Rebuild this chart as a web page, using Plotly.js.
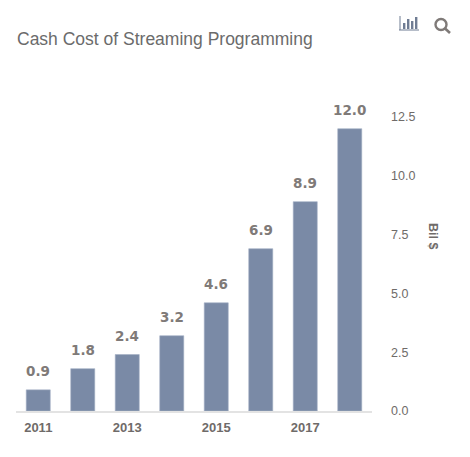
<!DOCTYPE html>
<html>
<head>
<meta charset="utf-8">
<script src="https://cdn.plot.ly/plotly-3.0.1.min.js"></script>
<style>html,body{margin:0;padding:0;background:#fff}#c{width:470px;height:457px}</style>
</head>
<body>
<div id="c"></div>
<script>
const years = [2011, 2012, 2013, 2014, 2015, 2016, 2017, 2018];
const costs = [0.9, 1.8, 2.4, 3.2, 4.6, 6.9, 8.9, 12.0];
const xTicks = [2011, 2013, 2015, 2017];
const yTicks = [0, 2.5, 5, 7.5, 10, 12.5];
const titleText = 'Cash Cost of Streaming Programming';
const unitText = 'Bil $';

const px = x => (x - 16) / 356;
const py = y => (411 - y) / 294;
const iconBlue = '#6f7c93', iconGrey = '#7f7a78';
const iconBar = (x0, top) => ({type:'rect', xref:'paper', yref:'paper', x0:px(x0), x1:px(x0+2.4), y0:py(29), y1:py(top), fillcolor:iconBlue, line:{width:0}});

const trace = {
  type: 'bar', x: years, y: costs,
  marker: {color: '#7a8aa6', line: {color: '#a3afc4', width: 0.6}},
  cliponaxis: false,
  hoverinfo: 'x+y'
};
const valueLabels = years.map((yr, i) => ({
  x: yr, y: costs[i], xref: 'x', yref: 'y', text: '<b>' + costs[i].toFixed(1) + '</b>',
  showarrow: false, xanchor: 'center', yanchor: 'bottom', yshift: 9,
  font: {family: 'DejaVu Sans', size: 13.5, color: '#7f7a78'}
}));
const layout = {
  width: 470, height: 457,
  margin: {l: 16, r: 98, t: 117, b: 46, pad: 0},
  paper_bgcolor: '#fff', plot_bgcolor: '#fff',
  bargap: 0.46, showlegend: false,
  title: {text: titleText, x: 17/470, xanchor: 'left', y: 1-39/457, yanchor: 'middle',
          font: {family: 'Liberation Sans', size: 17.5, color: '#6b6b6b'}},
  xaxis: {range: [2010.5, 2018.5], tickmode: 'array', tickvals: xTicks, ticktext: xTicks.map(String),
          showgrid: false, zeroline: false, showline: true, linecolor: '#e3e3e3', linewidth: 2, ticks: '',
          ticklabelstandoff: 3,
          tickfont: {family: 'Liberation Sans', size: 13, color: '#6f6b69', weight: 700}},
  yaxis: {range: [0, 12.5], side: 'right', tickmode: 'array', tickvals: yTicks,
          ticktext: yTicks.map(v => v.toFixed(1)), showgrid: false, zeroline: false, showline: false, ticks: '',
          ticklabelstandoff: 18,
          tickfont: {family: 'Liberation Sans', size: 12.5, color: '#6f6b69'}},
  annotations: valueLabels.concat([{text: '<b>' + unitText + '</b>', xref: 'paper', yref: 'paper', x: px(433), y: py(236),
                 xanchor: 'center', yanchor: 'middle', showarrow: false, textangle: 90,
                 font: {family: 'Liberation Sans', size: 12.5, color: '#6f6b69'}}]),
  shapes: [
    {type:'line', xref:'paper', yref:'paper', x0:px(399), x1:px(419), y0:py(30), y1:py(30), line:{color:iconBlue, width:1}},
    {type:'line', xref:'paper', yref:'paper', x0:px(400), x1:px(400), y0:py(30), y1:py(16), line:{color:iconBlue, width:1}},
    iconBar(403, 23), iconBar(407, 19), iconBar(411, 21), iconBar(415, 17),
    {type:'circle', xref:'paper', yref:'paper', x0:px(435.5), x1:px(446.5), y0:py(30), y1:py(19), line:{color:iconGrey, width:2.4}},
    {type:'line', xref:'paper', yref:'paper', x0:px(444.5), x1:px(450), y0:py(28), y1:py(33), line:{color:iconGrey, width:2.6}}
  ]
};
Plotly.newPlot('c', [trace], layout, {displayModeBar: false, responsive: false});
</script>
</body>
</html>
